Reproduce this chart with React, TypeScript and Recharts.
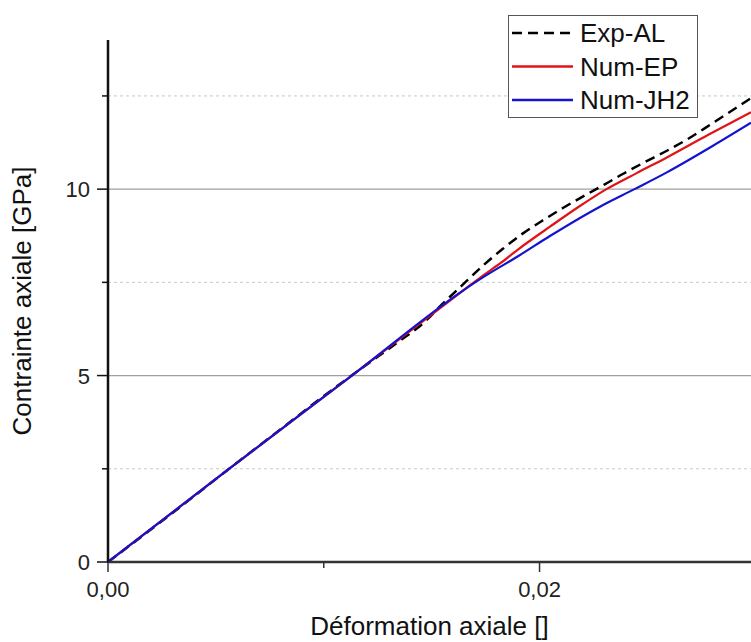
import React from 'react'
import {
  LineChart,
  Line,
  XAxis,
  YAxis,
  ReferenceLine,
  Legend,
  Label,
} from 'recharts'

// Exp-AL (experimental curve)
const expStrain = [0, 0.003, 0.0055, 0.008, 0.01, 0.012, 0.0134, 0.0146, 0.0155, 0.0163, 0.0174, 0.0183, 0.0192, 0.0202, 0.0211, 0.022, 0.023, 0.0239, 0.0248, 0.0259, 0.0268, 0.0281, 0.0298]
const expStress = [0, 1.32, 2.45, 3.56, 4.45, 5.3, 5.88, 6.4, 6.92, 7.36, 7.96, 8.4, 8.8, 9.18, 9.5, 9.8, 10.12, 10.42, 10.7, 11.03, 11.32, 11.8, 12.44]

// Num-EP
const epStrain = [0, 0.0055, 0.0113, 0.0165, 0.0173, 0.0182, 0.019, 0.0205, 0.0218, 0.0231, 0.0245, 0.0259, 0.0278, 0.0298]
const epStress = [0, 2.45, 5.0, 7.3, 7.65, 8.02, 8.38, 9.0, 9.52, 10.0, 10.43, 10.85, 11.45, 12.06]

// Num-JH2
const jhStrain = [0, 0.0055, 0.0113, 0.0165, 0.0175, 0.019, 0.0205, 0.0228, 0.0244, 0.0259, 0.028, 0.0298]
const jhStress = [0, 2.45, 5.0, 7.3, 7.68, 8.2, 8.75, 9.53, 10.0, 10.45, 11.15, 11.78]

const xTicks = [0, 0.01, 0.02]
const xLabels: Record<string, string> = { '0': '0,00', '0.02': '0,02' }
const yTicks = [0, 2.5, 5, 7.5, 10, 12.5]
const yMajor = [0, 5, 10]
const yGrid = [5, 10]
const yMinorGrid = [2.5, 7.5, 12.5]

const legendItems = [
  { name: 'Exp-AL', color: '#000000', dash: '10 6' },
  { name: 'Num-EP', color: '#e01414', dash: undefined },
  { name: 'Num-JH2', color: '#1414d0', dash: undefined },
]

const toPoints = (xs: number[], ys: number[]) => xs.map((x, i) => ({ x, y: ys[i] }))

const FONT = '"Liberation Sans", Arial, sans-serif'

const XTick = (props: any) => {
  const { x, y, payload } = props
  const label = xLabels[String(payload.value)]
  return (
    <g>
      <line x1={x} x2={x} y1={y} y2={y + (label ? 10 : 6)} stroke='#333' strokeWidth={1.5} />
      {label && (
        <text x={x} y={y + 35} textAnchor='middle' fontSize={22} fill='#222' fontFamily={FONT}>
          {label}
        </text>
      )}
    </g>
  )
}

const YTick = (props: any) => {
  const { x, y, payload } = props
  const major = yMajor.includes(payload.value)
  return (
    <g>
      <line x1={x - (major ? 11 : 6)} x2={x} y1={y} y2={y} stroke='#111' strokeWidth={1.5} />
      {major && (
        <text x={x - 18} y={y + 8} textAnchor='end' fontSize={22} fill='#222' fontFamily={FONT}>
          {payload.value}
        </text>
      )}
    </g>
  )
}

const renderLegend = () => (
  <div
    style={{
      width: 190,
      height: 103,
      boxSizing: 'border-box',
      border: '1px solid #555',
      background: '#fff',
    }}
  >
    <svg width={188} height={101}>
      {legendItems.map((item, i) => (
        <g key={item.name}>
          <line
            x1={3}
            x2={64}
            y1={17 + i * 33.5}
            y2={17 + i * 33.5}
            stroke={item.color}
            strokeWidth={2.5}
            strokeDasharray={item.dash}
          />
          <text x={71} y={26 + i * 33.5} fontSize={26} fill='#111' fontFamily={FONT}>
            {item.name}
          </text>
        </g>
      ))}
    </svg>
  </div>
)

export default function App() {
  return (
    <div style={{ position: 'absolute', left: 0, top: 0, background: '#fff', width: 751, height: 642 }}>
      <LineChart
        width={751}
        height={642}
        margin={{ top: 40, right: 0, bottom: 0, left: 48 }}
      >
        <XAxis
          type='number'
          dataKey='x'
          domain={[0, 0.0298]}
          ticks={xTicks}
          allowDataOverflow
          height={80}
          tickSize={0}
          tickMargin={0}
          tick={<XTick />}
          axisLine={{ stroke: '#333', strokeWidth: 2.5 }}
        >
          <Label
            value='Déformation axiale []'
            position='insideBottom'
            offset={7}
            fontSize={26}
            fill='#111'
            fontFamily={FONT}
          />
        </XAxis>
        <YAxis
          type='number'
          domain={[0, 14]}
          ticks={yTicks}
          width={60}
          tickSize={0}
          tickMargin={0}
          tick={<YTick />}
          axisLine={{ stroke: '#111', strokeWidth: 2.5 }}
        >
          <Label
            value='Contrainte axiale [GPa]'
            angle={-90}
            position='insideLeft'
            offset={-26}
            fontSize={26}
            fill='#111'
            fontFamily={FONT}
            style={{ textAnchor: 'middle' }}
          />
        </YAxis>

        {yMinorGrid.map((v) => (
          <ReferenceLine key={v} y={v} stroke='#c8c8c8' strokeDasharray='3 3' strokeWidth={1} />
        ))}
        {yGrid.map((v) => (
          <ReferenceLine key={v} y={v} stroke='#a0a0a0' strokeWidth={1.2} />
        ))}

        <Legend
          layout='vertical'
          align='center'
          verticalAlign='middle'
          content={renderLegend}
          wrapperStyle={{ left: 508, top: 15, width: 190, height: 103 }}
        />

        <Line
          data={toPoints(expStrain, expStress)}
          dataKey='y'
          name='Exp-AL'
          type='monotone'
          stroke='#000'
          strokeWidth={2.5}
          strokeDasharray='10 6'
          dot={false}
          isAnimationActive={false}
        />
        <Line
          data={toPoints(epStrain, epStress)}
          dataKey='y'
          name='Num-EP'
          type='monotone'
          stroke='#e01414'
          strokeWidth={2.2}
          dot={false}
          isAnimationActive={false}
        />
        <Line
          data={toPoints(jhStrain, jhStress)}
          dataKey='y'
          name='Num-JH2'
          type='monotone'
          stroke='#1414d0'
          strokeWidth={2.2}
          dot={false}
          isAnimationActive={false}
        />
      </LineChart>
    </div>
  )
}
